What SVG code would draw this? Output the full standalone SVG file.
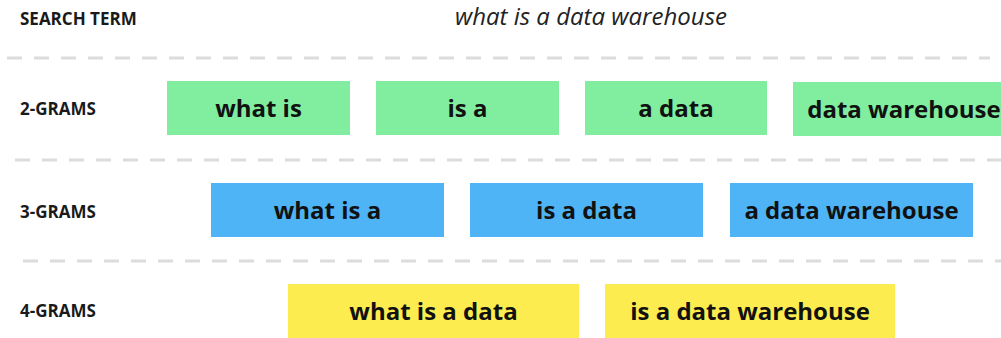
<svg xmlns="http://www.w3.org/2000/svg" width="1001" height="338" viewBox="0 0 1001 338">
  <style>
    .label { font-family: "Open Sans", "Liberation Sans", sans-serif; font-weight: 700; font-size: 17px; fill: #1a1a1a; }
    .term { font-family: "Open Sans", "Liberation Sans", sans-serif; font-style: italic; font-size: 24px; fill: #222; }
    .gram { font-family: "Open Sans", "Liberation Sans", sans-serif; font-weight: 700; font-size: 24px; fill: #111; text-anchor: middle; }
    .sep { stroke: #dcdcdc; stroke-width: 3; stroke-dasharray: 15 12; fill: none; }
    .g2 { fill: #80ed9f; }
    .g3 { fill: #4fb4f5; }
    .g4 { fill: #fcec4f; }
  </style>

  <!-- header row -->
  <text class="label" x="20" y="25">SEARCH TERM</text>
  <text class="term" x="455" y="25">what is a data warehouse</text>

  <!-- row separators -->
  <g id="separators">
    <line class="sep" x1="7" y1="58" x2="990" y2="58"/>
    <line class="sep" x1="15" y1="160" x2="1001" y2="160"/>
    <line class="sep" x1="23" y1="261" x2="1001" y2="261"/>
  </g>

  <!-- row labels -->
  <text class="label" x="20" y="115">2-GRAMS</text>
  <text class="label" x="20" y="218">3-GRAMS</text>
  <text class="label" x="20" y="317">4-GRAMS</text>

  <!-- 2-grams -->
  <g id="bigram-what-is">
    <rect class="g2" x="167" y="81" width="183" height="54"/>
    <text class="gram" x="258.5" y="117">what is</text>
  </g>
  <g id="bigram-is-a">
    <rect class="g2" x="376" y="81" width="183" height="54"/>
    <text class="gram" x="467.5" y="117">is a</text>
  </g>
  <g id="bigram-a-data">
    <rect class="g2" x="585" y="81" width="182" height="54"/>
    <text class="gram" x="676" y="117">a data</text>
  </g>
  <g id="bigram-data-warehouse">
    <rect class="g2" x="793" y="82" width="220" height="54"/>
    <text class="gram" x="904" y="118">data warehouse</text>
  </g>

  <!-- 3-grams -->
  <g id="trigram-what-is-a">
    <rect class="g3" x="211" y="183" width="233" height="54"/>
    <text class="gram" x="327.5" y="219">what is a</text>
  </g>
  <g id="trigram-is-a-data">
    <rect class="g3" x="470" y="183" width="233" height="54"/>
    <text class="gram" x="586.5" y="219">is a data</text>
  </g>
  <g id="trigram-a-data-warehouse">
    <rect class="g3" x="730" y="183" width="243" height="54"/>
    <text class="gram" x="851.5" y="219">a data warehouse</text>
  </g>

  <!-- 4-grams -->
  <g id="fourgram-what-is-a-data">
    <rect class="g4" x="288" y="284" width="291" height="54"/>
    <text class="gram" x="433.5" y="320">what is a data</text>
  </g>
  <g id="fourgram-is-a-data-warehouse">
    <rect class="g4" x="605" y="284" width="290" height="54"/>
    <text class="gram" x="750" y="320">is a data warehouse</text>
  </g>

  <!-- no connectors in this figure -->
  <g id="connectors"/>
</svg>
